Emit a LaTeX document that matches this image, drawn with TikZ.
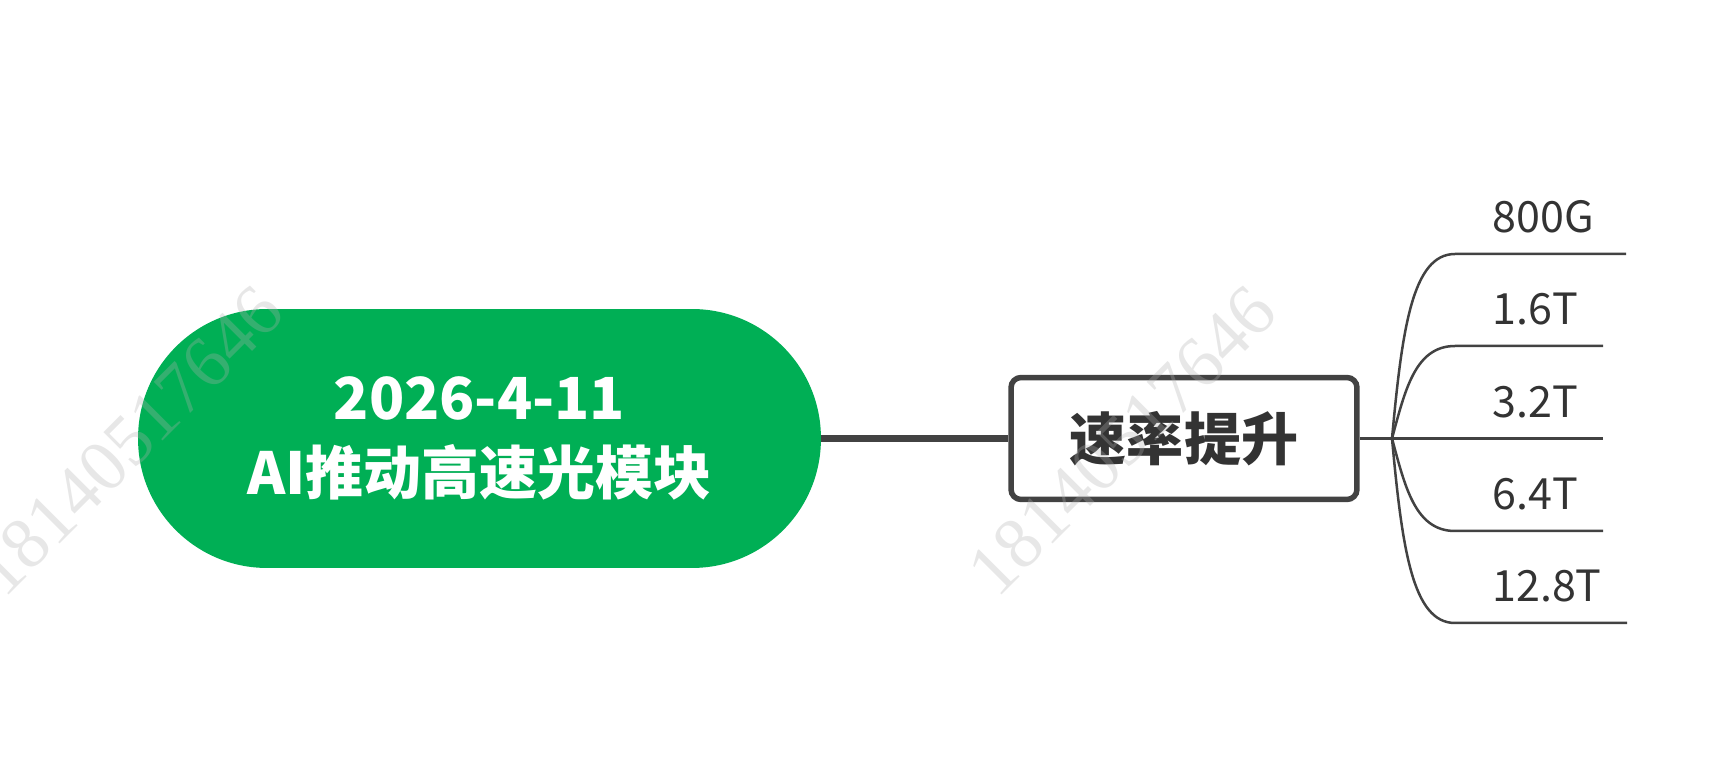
\documentclass[tikz,border=0pt]{standalone}
\usepackage{fontspec}
\usepackage{xcolor}
\usepackage{tikz}
\setmainfont{Noto Sans CJK SC}
\newfontfamily\markfont{Liberation Serif}
\definecolor{rootcolor}{HTML}{00AF55}
\definecolor{linecolor}{HTML}{424242}
\definecolor{textcolor}{HTML}{333333}
\definecolor{markcolor}{HTML}{B0B0B0}
\tikzset{
  rootbox/.style={rectangle, fill=rootcolor, text=white, align=center, minimum width=13.66cm, minimum height=5.18cm, rounded corners=2.58cm, font=\bfseries\fontsize{33pt}{43pt}\selectfont},
  topicbox/.style={rectangle, draw=linecolor, line width=0.11cm, fill=white, text=textcolor, rounded corners=0.2cm, minimum width=6.92cm, minimum height=2.44cm, font=\bfseries\fontsize{32.5pt}{39pt}\selectfont},
  leaflabel/.style={anchor=south west, inner xsep=0.74cm, inner ysep=0.42cm, text depth=0pt, text=textcolor, font=\fontsize{24.5pt}{29pt}\selectfont},
  mainline/.style={draw=linecolor, line width=0.15cm},
  leafline/.style={draw=linecolor, line width=0.05cm},
  watermark/.style={rotate=45, text=markcolor, opacity=0.3, font=\markfont\fontsize{41.5pt}{48pt}\selectfont}
}

\begin{document}
\begin{tikzpicture}[x=0.02cm, y=-0.02cm]%
\useasboundingbox (0, 0) rectangle (1729, 763);%
\node[rootbox] (root) at (479.5, 438.5) {2026-4-11\\AI推动高速光模块};%
\node[topicbox] (rate) at (1184, 438.5) {速率提升};%
\draw[mainline] (root.east) -- (rate.west);%
\coordinate (branch) at (1392, 438.5);%
\draw[leafline] (rate.east) -- (branch);%
% rates
\node[leaflabel] (r800) at (1455, 254) {800G};%
\node[leaflabel] (r16) at (1455, 346) {1.6T};%
\node[leaflabel] (r32) at (1455, 438.5) {3.2T};%
\node[leaflabel] (r64) at (1455, 531) {6.4T};%
\node[leaflabel] (r128) at (1455, 623) {12.8T};%
\draw[leafline] (branch) .. controls +(10, -108) and +(-43, 0) .. (r800.south west) -- ([xshift=-0.1cm]r800.south east);%
\draw[leafline] (branch) .. controls +(13, -48) and +(-40, 0) .. (r16.south west) -- ([xshift=-0.24cm]r16.south east);%
\draw[leafline] (branch) -- (r32.south west) -- ([xshift=-0.24cm]r32.south east);%
\draw[leafline] (branch) .. controls +(13, 48) and +(-40, 0) .. (r64.south west) -- ([xshift=-0.24cm]r64.south east);%
\draw[leafline] (branch) .. controls +(10, 108) and +(-43, 0) .. (r128.south west) -- ([xshift=-0.24cm]r128.south east);%
% watermarks
\node[watermark] (mark1) at (129, 441) {18140517646};%
\node[watermark] (mark2) at (1122, 441) {18140517646};%
\end{tikzpicture}
\end{document}
